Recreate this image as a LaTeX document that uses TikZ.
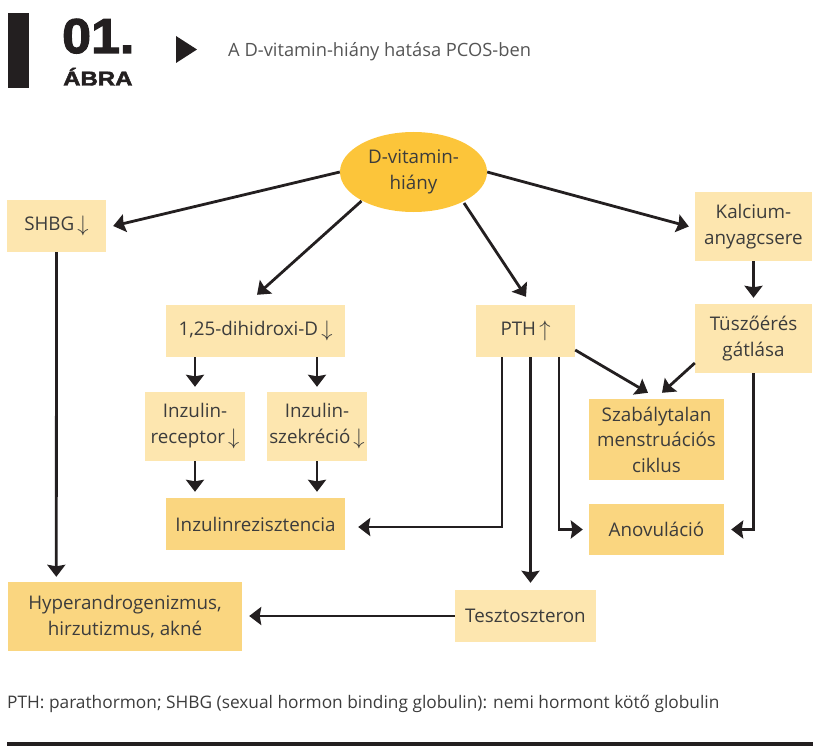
\documentclass[tikz,border=0pt]{standalone}
\usepackage{fontspec}
\usepackage{graphicx}
\setmainfont{Open Sans}
\newfontfamily\hdrfont[BoldFeatures={FakeBold=2.2}]{Liberation Sans}
\usetikzlibrary{arrows.meta,calc,shapes.geometric}
\definecolor{light}{RGB}{253,230,175}
\definecolor{dark}{RGB}{250,214,128}
\definecolor{gold}{RGB}{252,197,58}
\definecolor{ink}{RGB}{35,31,32}
\definecolor{txt}{RGB}{60,60,60}
\definecolor{grey}{RGB}{85,85,85}
\newcommand{\dn}{\,\raisebox{-1.5pt}{\scalebox{1.3}{$\downarrow$}}}
\newcommand{\upa}{\,\raisebox{-1.5pt}{\scalebox{1.3}{$\uparrow$}}}
\tikzset{
  box/.style={rectangle, fill=light, text=txt, inner sep=0pt, align=center,
    font=\fontsize{18.8}{25.5}\selectfont},
  darkbox/.style={box, fill=dark},
  arr/.style={draw=ink, line width=2.8pt,
    -{Stealth[length=12pt,width=18pt,inset=1.5pt]}},
}
\begin{document}
\begin{tikzpicture}[x=1pt,y=-1pt]
\useasboundingbox (0,0) rectangle (813,746);
% header
\fill[ink] (8,13) rectangle (29,88);
\node[anchor=base west, inner sep=0pt, text=ink, font=\hdrfont\bfseries\fontsize{49}{49}\selectfont] (num) at (62,53) {\scalebox{1.06}[1]{01.}};
\node[anchor=base west, inner sep=0pt, text=ink, font=\hdrfont\bfseries\fontsize{20}{20}\selectfont] (abra) at (63,85.5) {\scalebox{1.2}[1]{ÁBRA}};
\fill[ink] (176,36) -- (176,63) -- (197,49.5) -- cycle;
\node[anchor=base west, inner sep=0pt, text=grey, font=\fontsize{18.3}{20}\selectfont] (title) at (228,57) {A D-vitamin-hiány hatása PCOS-ben};
% nodes
\node[ellipse, fill=gold, text=txt, minimum width=147pt, minimum height=80pt, inner sep=0pt, align=center, font=\fontsize{18.8}{25.5}\selectfont] (vit) at (413.5,172) {D-vitamin-\\hiány};
\node[box, minimum width=99pt, minimum height=52pt] (shbg) at (56.5,226) {SHBG\dn};
\node[box, minimum width=179pt, minimum height=52pt] (dih) at (255.5,331) {1,25-dihidroxi-D\dn};
\node[box, minimum width=117pt, minimum height=69pt] (kalc) at (753.5,226.5) {Kalcium-\\anyagcsere};
\node[box, minimum width=99pt, minimum height=52pt] (pth) at (525.5,331) {PTH\upa};
\node[box, minimum width=117pt, minimum height=69pt] (tusz) at (753.5,338.5) {Tüszőérés\\gátlása};
\node[box, minimum width=100pt, minimum height=69pt] (rec) at (195,426.5) {Inzulin-\\receptor\dn};
\node[box, minimum width=100pt, minimum height=69pt] (szek) at (317,426.5) {Inzulin-\\szekréció\dn};
\node[darkbox, minimum width=179pt, minimum height=52pt] (ir) at (255.5,524) {Inzulinrezisztencia};
\node[darkbox, minimum width=135pt, minimum height=81pt] (szab) at (656.5,439.5) {Szabálytalan\\menstruációs\\ciklus};
\node[darkbox, minimum width=135pt, minimum height=51pt] (anov) at (656.5,529.5) {Anovuláció};
\node[darkbox, minimum width=234pt, minimum height=69pt] (hyp) at (125,616.5) {Hyperandrogenizmus,\\hirzutizmus, akné};
\node[box, minimum width=141pt, minimum height=52pt] (tesz) at (525.5,616) {Tesztoszteron};
% connectors
\draw[arr] (vit.west) -- ($(shbg.east)+(7,0)$);
\draw[arr] ($(vit.center)+(-52,29)$) -- ($(dih.north)+(1.5,-10)$);
\draw[arr] ($(vit.center)+(50.5,31)$) -- ($(pth.north)+(0.5,-8)$);
\draw[arr] (vit.east) -- ($(kalc.west)+(-6,0)$);
\draw[arr] (kalc.south) -- ($(tusz.north)+(0,-6)$);
\draw[arr] (shbg.south) -- ($(hyp.north west)+(48.5,-5)$);
\draw[arr] (dih.south -| rec.north) -- ($(rec.north)+(0,-5)$);
\draw[arr] (dih.south -| szek.north) -- ($(szek.north)+(0,-5)$);
\draw[arr] (rec.south) -- ($(rec.south |- ir.north)+(0,-6)$);
\draw[arr] (szek.south) -- ($(szek.south |- ir.north)+(0,-6)$);
\draw[arr] ($(pth.east)+(0,19)$) -- ($(szab.north)+(-8.5,-6)$);
\draw[arr] ($(tusz.west)+(0,24.5)$) -- ($(szab.north)+(5.5,-6)$);
\draw[arr] ($(pth.south)+(-23.5,0)$) |- ($(ir.east)+(13,3)$);
\draw[arr] ($(pth.south)+(5,0)$) -- ($(tesz.north)+(5,-7)$);
\draw[arr] ($(pth.south)+(33.5,0)$) |- ($(anov.west)+(-6,0)$);
\draw[arr] (tusz.south) |- ($(anov.east)+(7,0)$);
\draw[arr] (tesz.west) -- ($(tesz.west -| hyp.east)+(7,0)$);
% caption
\node[anchor=base west, inner sep=0pt, text=txt, font=\fontsize{17.3}{20}\selectfont] (cap) at (7,708) {PTH: parathormon; SHBG (sexual hormon binding globulin): nemi hormont kötő globulin};
\fill[ink] (7,742) rectangle (813,746);
\end{tikzpicture}
\end{document}
